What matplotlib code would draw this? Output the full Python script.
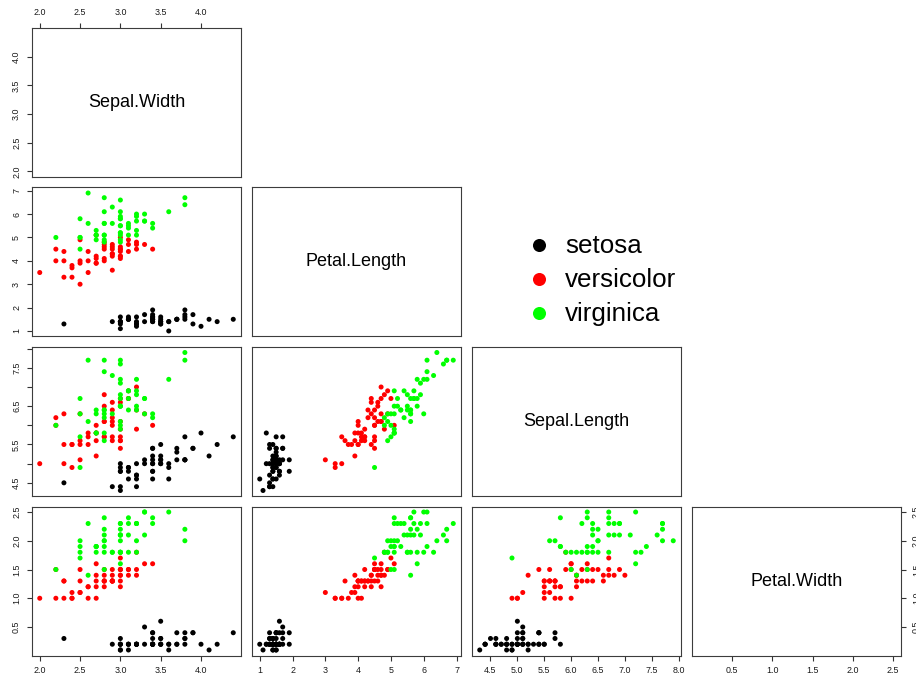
import numpy as np
import matplotlib
matplotlib.use('Agg')
import matplotlib.pyplot as plt

plt.rcParams['font.family'] = ['Liberation Sans', 'DejaVu Sans']

# iris data (rows 1-50 setosa, 51-100 versicolor, 101-150 virginica)
sepal_length = [5.1,4.9,4.7,4.6,5.0,5.4,4.6,5.0,4.4,4.9,5.4,4.8,4.8,4.3,5.8,5.7,5.4,5.1,5.7,5.1,
                5.4,5.1,4.6,5.1,4.8,5.0,5.0,5.2,5.2,4.7,4.8,5.4,5.2,5.5,4.9,5.0,5.5,4.9,4.4,5.1,
                5.0,4.5,4.4,5.0,5.1,4.8,5.1,4.6,5.3,5.0,
                7.0,6.4,6.9,5.5,6.5,5.7,6.3,4.9,6.6,5.2,5.0,5.9,6.0,6.1,5.6,6.7,5.6,5.8,6.2,5.6,
                5.9,6.1,6.3,6.1,6.4,6.6,6.8,6.7,6.0,5.7,5.5,5.5,5.8,6.0,5.4,6.0,6.7,6.3,5.6,5.5,
                5.5,6.1,5.8,5.0,5.6,5.7,5.7,6.2,5.1,5.7,
                6.3,5.8,7.1,6.3,6.5,7.6,4.9,7.3,6.7,7.2,6.5,6.4,6.8,5.7,5.8,6.4,6.5,7.7,7.7,6.0,
                6.9,5.6,7.7,6.3,6.7,7.2,6.2,6.1,6.4,7.2,7.4,7.9,6.4,6.3,6.1,7.7,6.3,6.4,6.0,6.9,
                6.7,6.9,5.8,6.8,6.7,6.7,6.3,6.5,6.2,5.9]
sepal_width = [3.5,3.0,3.2,3.1,3.6,3.9,3.4,3.4,2.9,3.1,3.7,3.4,3.0,3.0,4.0,4.4,3.9,3.5,3.8,3.8,
               3.4,3.7,3.6,3.3,3.4,3.0,3.4,3.5,3.4,3.2,3.1,3.4,4.1,4.2,3.1,3.2,3.5,3.6,3.0,3.4,
               3.5,2.3,3.2,3.5,3.8,3.0,3.8,3.2,3.7,3.3,
               3.2,3.2,3.1,2.3,2.8,2.8,3.3,2.4,2.9,2.7,2.0,3.0,2.2,2.9,2.9,3.1,3.0,2.7,2.2,2.5,
               3.2,2.8,2.5,2.8,2.9,3.0,2.8,3.0,2.9,2.6,2.4,2.4,2.7,2.7,3.0,3.4,3.1,2.3,3.0,2.5,
               2.6,3.0,2.6,2.3,2.7,3.0,2.9,2.9,2.5,2.8,
               3.3,2.7,3.0,2.9,3.0,3.0,2.5,2.9,2.5,3.6,3.2,2.7,3.0,2.5,2.8,3.2,3.0,3.8,2.6,2.2,
               3.2,2.8,2.8,2.7,3.3,3.2,2.8,3.0,2.8,3.0,2.8,3.8,2.8,2.8,2.6,3.0,3.4,3.1,3.0,3.1,
               3.1,3.1,2.7,3.2,3.3,3.0,2.5,3.0,3.4,3.0]
petal_length = [1.4,1.4,1.3,1.5,1.4,1.7,1.4,1.5,1.4,1.5,1.5,1.6,1.4,1.1,1.2,1.5,1.3,1.4,1.7,1.5,
                1.7,1.5,1.0,1.7,1.9,1.6,1.6,1.5,1.4,1.6,1.6,1.5,1.5,1.4,1.5,1.2,1.3,1.4,1.3,1.5,
                1.3,1.3,1.3,1.6,1.9,1.4,1.6,1.4,1.5,1.4,
                4.7,4.5,4.9,4.0,4.6,4.5,4.7,3.3,4.6,3.9,3.5,4.2,4.0,4.7,3.6,4.4,4.5,4.1,4.5,3.9,
                4.8,4.0,4.9,4.7,4.3,4.4,4.8,5.0,4.5,3.5,3.8,3.7,3.9,5.1,4.5,4.5,4.7,4.4,4.1,4.0,
                4.4,4.6,4.0,3.3,4.2,4.2,4.2,4.3,3.0,4.1,
                6.0,5.1,5.9,5.6,5.8,6.6,4.5,6.3,5.8,6.1,5.1,5.3,5.5,5.0,5.1,5.3,5.5,6.7,6.9,5.0,
                5.7,4.9,6.7,4.9,5.7,6.0,4.8,4.9,5.6,5.8,6.1,6.4,5.6,5.1,5.6,6.1,5.6,5.5,4.8,5.4,
                5.6,5.1,5.1,5.9,5.7,5.2,5.0,5.2,5.4,5.1]
petal_width = [0.2,0.2,0.2,0.2,0.2,0.4,0.3,0.2,0.2,0.1,0.2,0.2,0.1,0.1,0.2,0.4,0.4,0.3,0.3,0.3,
               0.2,0.4,0.2,0.5,0.2,0.2,0.4,0.2,0.2,0.2,0.2,0.4,0.1,0.2,0.2,0.2,0.2,0.1,0.2,0.2,
               0.3,0.3,0.2,0.6,0.4,0.3,0.2,0.2,0.2,0.2,
               1.4,1.5,1.5,1.3,1.5,1.3,1.6,1.0,1.3,1.4,1.0,1.5,1.0,1.4,1.3,1.4,1.5,1.0,1.5,1.1,
               1.8,1.3,1.5,1.2,1.3,1.4,1.4,1.7,1.5,1.0,1.1,1.0,1.2,1.6,1.5,1.6,1.5,1.3,1.3,1.3,
               1.2,1.4,1.2,1.0,1.3,1.2,1.3,1.3,1.1,1.3,
               2.5,1.9,2.1,1.8,2.2,2.1,1.7,1.8,1.8,2.5,2.0,1.9,2.1,2.0,2.4,2.3,1.8,2.2,2.3,1.5,
               2.3,2.0,2.0,1.8,2.1,1.8,1.8,1.8,2.1,1.6,1.9,2.0,2.2,1.5,1.4,2.3,2.4,1.8,1.8,2.1,
               2.4,2.3,1.9,2.3,2.5,2.3,1.9,2.0,2.3,1.8]
species = [0]*50 + [1]*50 + [2]*50
species_names = ['setosa', 'versicolor', 'virginica']
species_colors = ['#000000', '#ff0000', '#00ff00']

var_names = ['Sepal.Width', 'Petal.Length', 'Sepal.Length', 'Petal.Width']
var_data = [sepal_width, petal_length, sepal_length, petal_width]
var_ticks = [[2.0, 2.5, 3.0, 3.5, 4.0],
             [1, 2, 3, 4, 5, 6, 7],
             [4.5, 5.0, 5.5, 6.0, 6.5, 7.0, 7.5, 8.0],
             [0.5, 1.0, 1.5, 2.0, 2.5]]
var_fmt = ['%.1f', '%d', '%.1f', '%.1f']

W, H = 916, 681
fig = plt.figure(figsize=(W/100, H/100), dpi=100)

col_x = [32, 252, 472, 692]
row_y = [28, 187.5, 347, 506.5]
pw, ph = 209, 149

pt_cols = [species_colors[s] for s in species]

def lims(v):
    lo, hi = min(v), max(v)
    d = (hi - lo)*0.04
    return lo - d, hi + d

def tick_labels(k, skip=False):
    labs = [var_fmt[k] % t for t in var_ticks[k]]
    if skip:  # R drops overlapping labels on the vertical axis
        labs = [l if n % 2 == 0 else '' for n, l in enumerate(labs)]
    return labs

tsize = 6.4
for i in range(4):
    for j in range(i + 1):
        ax = fig.add_axes([col_x[j]/W, 1 - (row_y[i] + ph)/H, pw/W, ph/H])
        ax.set_xlim(lims(var_data[j]))
        ax.set_ylim(lims(var_data[i]))
        for s in ax.spines.values():
            s.set_linewidth(0.8)
            s.set_color('#3c3c3c')
        if i == j:
            ax.text(0.5, 0.5, var_names[i], transform=ax.transAxes,
                    ha='center', va='center', fontsize=13)
        else:
            ax.scatter(var_data[j], var_data[i], c=pt_cols, s=13, linewidths=0)

        # x axis
        if i == 3 or (i == 0 and j == 0):
            ax.set_xticks(var_ticks[j], tick_labels(j))
            ax.xaxis.set_ticks_position('top' if i == 0 else 'bottom')
        else:
            ax.set_xticks([])
        # y axis
        if j == 0 or (i == 3 and j == 3):
            ax.set_yticks(var_ticks[i], tick_labels(i, skip=(i == 2)),
                          rotation=90, va='center')
            ax.yaxis.set_ticks_position('left' if j == 0 else 'right')
        else:
            ax.set_yticks([])
        ax.tick_params(length=3.6, width=0.8, color='#333333', labelcolor='#1a1a1a',
                       labelsize=tsize, pad=4.3)

# legend in the empty upper triangle
lax = fig.add_axes([0, 0, 1, 1])
lax.set_xlim(0, W)
lax.set_ylim(H, 0)
lax.axis('off')
for k, name in enumerate(species_names):
    yy = 245 + 34*k
    lax.plot(539, yy, 'o', ms=9.4, color=species_colors[k], mec='none')
    lax.text(565, yy + 1, name, fontsize=18.7, va='center', ha='left')

fig.savefig('out.png', dpi=100)
